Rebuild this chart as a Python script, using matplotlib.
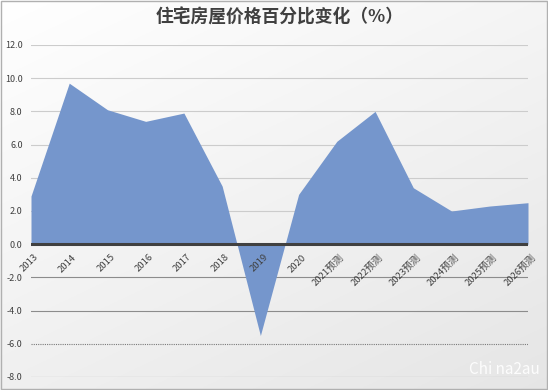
import matplotlib
matplotlib.use("Agg")
import matplotlib.pyplot as plt
import numpy as np

plt.rcParams['font.family'] = ['Noto Sans CJK SC', 'DejaVu Sans']

categories = ["2013", "2014", "2015", "2016", "2017", "2018", "2019", "2020",
              "2021预测", "2022预测", "2023预测", "2024预测", "2025预测", "2026预测"]
values = [2.9, 9.7, 8.1, 7.4, 7.9, 3.5, -5.5, 3.0, 6.2, 8.0, 3.4, 2.0, 2.3, 2.5]
yticks = [-8, -6, -4, -2, 0, 2, 4, 6, 8, 10, 12]

fig = plt.figure(figsize=(5.48, 3.9), dpi=100)

# gradient background
bg = fig.add_axes([0, 0, 1, 1], zorder=-10)
yy, xx = np.mgrid[0:1:200j, 0:1:200j]
g = 1.0 - 0.10 * (0.6 * yy + 0.4 * xx)
bg.imshow(np.dstack([g, g, g]), extent=[0, 1, 0, 1], origin='upper', aspect='auto')
bg.set_xlim(0, 1); bg.set_ylim(0, 1)
bg.axis('off')
bg.add_patch(plt.Rectangle((0.001, 0.002), 0.997, 0.995, fill=False, ec='#b0b0b0', lw=1))

ax = fig.add_axes([31/548, 1-377/390, (528-31)/548, (377-45)/390])
ax.patch.set_alpha(0)
x = np.arange(len(categories))
ax.fill_between(x, values, 0, color='#7596CC', lw=0, zorder=2)
ax.set_xlim(0, len(categories) - 1)
ax.set_ylim(-8, 12)
ax.set_yticks(yticks)
ax.set_yticklabels([f"{v:.1f}" for v in yticks], fontsize=6.5, color='#404040')
ax.tick_params(axis='y', length=0, pad=6)
ax.set_xticks([])
for v in yticks:
    if v == 0:
        continue
    if v > 0:
        ax.axhline(v, color='#cccccc', lw=0.8, zorder=1)
    elif v == -6:
        ax.axhline(v, color='#7a7a7a', lw=0.8, ls=(0, (1, 1)), zorder=1)
    else:
        ax.axhline(v, color='#8c8c8c', lw=0.8, zorder=1)
ax.axhline(0, color='#404040', lw=2.2, zorder=3)
for s in ax.spines.values():
    s.set_visible(False)

for i, c in enumerate(categories):
    ax.annotate(c, xy=(i, 0), xytext=(2, -6), textcoords='offset points',
                rotation=45, ha='right', va='top', fontsize=6.8, color='#404040',
                rotation_mode='anchor', zorder=4)

fig.text(0.51, 0.955, "住宅房屋价格百分比变化（%）", ha='center', va='center',
         fontsize=12.8, fontweight='bold', color='#404040')
fig.text(0.985, 0.03, "Chi na2au", ha='right', va='bottom', fontsize=11,
         color='white', alpha=0.9)

fig.savefig("out.png", dpi=100)
